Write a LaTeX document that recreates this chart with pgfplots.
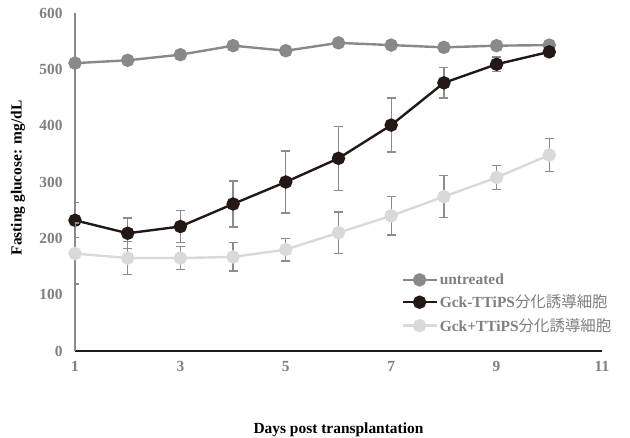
\documentclass[border=0pt]{standalone}
\usepackage{fontspec}
\setmainfont{Liberation Serif}
\newfontfamily\cjk{Noto Sans CJK JP}
\usepackage{pgfplots}
\pgfplotsset{compat=1.18}
\definecolor{cUnt}{HTML}{898989}
\definecolor{cBlk}{HTML}{231815}
\definecolor{cLgt}{HTML}{D9D9D9}
\definecolor{cErr}{HTML}{8C8C8C}
\definecolor{cTxt}{HTML}{7F7F7F}
\begin{document}
\begin{tikzpicture}
\path[use as bounding box] (-75bp,-87bp) rectangle (555bp,351bp);
\begin{axis}[
  at={(0,0)}, anchor=south west,
  scale only axis, width=527bp, height=338bp,
  xmin=1, xmax=11, ymin=0, ymax=600,
  xtick={1,3,5,7,9,11}, ytick={0,100,...,600},
  axis x line=bottom, axis y line=left,
  x axis line style={-, color=cBlk, line width=1.8bp},
  y axis line style={-, color=cUnt, line width=1.8bp},
  major tick length=0pt,
  /pgf/number format/assume math mode=true,
  font=\fontsize{15.5}{18}\selectfont\bfseries,
  tick label style={color=cTxt},
  yticklabel style={xshift=-9bp},
  xticklabel style={yshift=-7bp},
  xlabel={Days post transplantation},
  xlabel style={at={(axis description cs:0.5,0)}, anchor=center, yshift=-79bp},
  clip mode=individual,
  legend style={draw=none, fill=none, at={(axis description cs:0.619,0.235)}, anchor=north west,
    font=\fontsize{15.5}{18}\selectfont\bfseries, text=cTxt, row sep=5bp, inner sep=0pt},
  legend cell align=left,
  legend image code/.code={\draw[mark repeat=2,mark phase=2] plot coordinates {(0bp,0bp)(17bp,0bp)(34bp,0bp)};},
  every axis plot/.append style={line width=2.4bp, mark=*, mark size=5.5bp},
  eb/.style={error bars/.cd, y dir=both, y explicit,
    error bar style={color=cErr, line width=1.3bp},
    error mark options={rotate=90, mark size=4.5bp, color=cErr, line width=1.3bp}},
]
\addplot[color=cUnt, mark options={fill=cUnt, draw=cUnt}, eb] table[x=x, y=y, y error=e] {
x y e
1 511 0
2 516 6
3 526 7
4 542 0
5 533 0
6 547 0
7 543 0
8 539 0
9 542 0
10 543 6
};
\addlegendentry{untreated}
\addplot[color=cBlk, mark options={fill=cBlk, draw=cBlk}, eb] table[x=x, y=y, y error=e] {
x y e
1 232 31
2 209 27
3 221 28
4 261 41
5 300 55
6 342 57
7 401 48
8 476 27
9 509 13
10 531 8
};
\addlegendentry{Gck-TTiPS{\mdseries\cjk 分化誘導細胞}}
\addplot[color=cLgt, mark options={fill=cLgt, draw=cLgt}, eb] table[x=x, y=y, y error=e] {
x y e
1 173 54
2 165 29
3 165 20
4 167 25
5 180 20
6 210 37
7 240 34
8 274 37
9 308 21
10 348 29
};
\addlegendentry{Gck+TTiPS{\mdseries\cjk 分化誘導細胞}}
\node[rotate=90, anchor=center, font=\fontsize{15.5}{18}\selectfont\bfseries]
  at ([xshift=-57bp]axis description cs:0,0.512) {Fasting glucose: mg/dL};
\end{axis}
\end{tikzpicture}
\end{document}
